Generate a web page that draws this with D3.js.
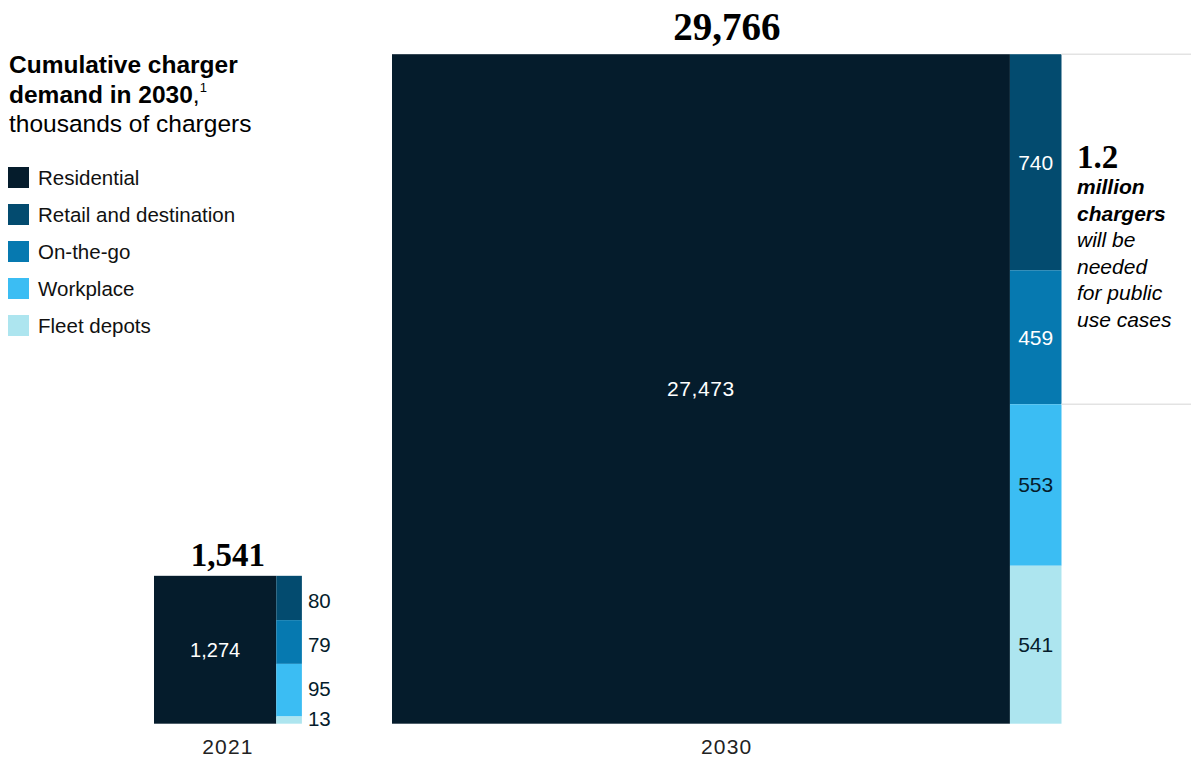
<!DOCTYPE html>
<html><head><meta charset="utf-8">
<script src="https://cdn.jsdelivr.net/npm/d3@7/dist/d3.min.js"></script>
<style>
html,body{margin:0;padding:0;background:#fff;}
svg{display:block;}
</style></head>
<body>
<svg id="c" width="1191" height="761"></svg>
<script>
// ---- data ----
const years = ["2021", "2030"];
const categories = ["Residential", "Retail and destination", "On-the-go", "Workplace", "Fleet depots"];
const totals = [1541, 29766];
const residential = [1274, 27473];
const retail = [80, 740];
const onTheGo = [79, 459];
const workplace = [95, 553];
const fleet = [13, 541];
const publicTotalLabel = "1.2";
const annotationLines = [
  {t:"million", s:"bold"}, {t:"chargers", s:"bold"},
  {t:"will be", s:"it"}, {t:"needed", s:"it"}, {t:"for public", s:"it"}, {t:"use cases", s:"it"}
];

// ---- styles ----
const colors = ["#051c2c", "#034b6f", "#0679b0", "#3bbdf3", "#ade5ef"];
const labelColors = ["#fff", "#fff", "#fff", "#051c2c", "#051c2c"];
const outsideLabelNudge = [3, 3, -1, -1];
const sans = "'Liberation Sans', Arial, sans-serif";
const serif = "'Liberation Serif', 'Times New Roman', serif";

const svg = d3.select("#c");
const baseY = 723.7;
const x0 = [154, 392];

// side length of each square (area-proportional)
const side = d3.scalePow().exponent(0.51).domain([0, d3.max(totals)]).range([0, 669.5]);

const rest = [retail, onTheGo, workplace, fleet];

years.forEach((yr, i) => {
  const s = side(totals[i]);
  const left = x0[i], top = baseY - s;
  const xs = d3.scaleLinear().domain([0, totals[i]]).range([left, left + s]);
  const resRight = xs(residential[i]);
  const g = svg.append("g");
  g.append("rect").attr("x", left).attr("y", top).attr("width", resRight - left).attr("height", s).attr("fill", colors[0]);
  g.append("text").attr("x", (left + resRight) / 2).attr("y", top + s / 2).attr("dy", "0.35em")
    .attr("text-anchor", "middle").attr("fill", "#fff").attr("font-family", sans)
    .attr("font-size", i === 1 ? 21 : 20).attr("letter-spacing", i === 1 ? 0.6 : 0)
    .text(d3.format(",")(residential[i]));

  // right column stack
  const vals = rest.map(a => a[i]);
  const sum = d3.sum(vals);
  const ys = d3.scaleLinear().domain([0, sum]).range([top, baseY]);
  let acc = 0;
  vals.forEach((v, k) => {
    const y1 = ys(acc), y2 = ys(acc + v);
    acc += v;
    g.append("rect").attr("x", resRight).attr("y", y1).attr("width", left + s - resRight).attr("height", y2 - y1)
      .attr("fill", colors[k + 1]);
    if (i === 1) {
      g.append("text").attr("x", (resRight + left + s) / 2).attr("y", (y1 + y2) / 2).attr("dy", "0.35em")
        .attr("text-anchor", "middle").attr("fill", labelColors[k + 1]).attr("font-family", sans).attr("font-size", 21)
        .text(v);
    } else {
      g.append("text").attr("x", left + s + 6).attr("y", (y1 + y2) / 2 + outsideLabelNudge[k]).attr("dy", "0.35em")
        .attr("fill", "#051c2c").attr("font-family", sans).attr("font-size", 20.5)
        .text(v);
    }
  });

  // total label
  g.append("text").attr("x", left + s / 2).attr("y", top - (i === 1 ? 14 : 10))
    .attr("text-anchor", "middle").attr("fill", "#000").attr("font-family", serif).attr("font-weight", "bold")
    .attr("font-size", i === 1 ? 39 : 33).text(d3.format(",")(totals[i]));

  // year label
  g.append("text").attr("x", left + s / 2).attr("y", 754)
    .attr("text-anchor", "middle").attr("fill", "#222").attr("font-family", sans).attr("font-size", 21)
    .attr("letter-spacing", 1.2).text(yr);

  if (i === 1) {
    const pubTop = ys(0), pubBot = ys(retail[i] + onTheGo[i]);
    [pubTop, pubBot].forEach(yy => {
      svg.append("line").attr("x1", left + s).attr("x2", 1191).attr("y1", yy).attr("y2", yy)
        .attr("stroke", "#e3e3e3").attr("stroke-width", 1.5);
    });
    const ax = 1077;
    svg.append("text").attr("x", ax).attr("y", 168).attr("font-family", serif).attr("font-weight", "bold")
      .attr("font-size", 33).attr("fill", "#000").text(publicTotalLabel);
    annotationLines.forEach((l, j) => {
      svg.append("text").attr("x", ax).attr("y", 194 + j * 26.6).attr("font-family", sans)
        .attr("font-size", 21).attr("font-style", "italic").attr("font-weight", l.s === "bold" ? "bold" : "normal")
        .attr("fill", "#000").text(l.t);
    });
  }
});

// title
const title = svg.append("text").attr("font-family", sans).attr("fill", "#000").attr("font-size", 24.5);
title.append("tspan").attr("x", 9).attr("y", 73).attr("font-weight", "bold").text("Cumulative charger");
title.append("tspan").attr("x", 9).attr("y", 103).attr("font-weight", "bold").text("demand in 2030");
title.append("tspan").attr("font-weight", "normal").text(",");
title.append("tspan").attr("font-size", 13).attr("dy", -11).text("1");
title.append("tspan").attr("x", 9).attr("y", 132).attr("font-weight", "normal").text("thousands of chargers");

// legend
const leg = svg.append("g");
categories.forEach((c, k) => {
  const yy = 167 + k * 37;
  leg.append("rect").attr("x", 8).attr("y", yy).attr("width", 21).attr("height", 21).attr("fill", colors[k]);
  leg.append("text").attr("x", 38).attr("y", yy + 10.5).attr("dy", "0.35em").attr("font-family", sans)
    .attr("font-size", 20.5).attr("fill", "#111").text(c);
});
</script>
</body></html>
